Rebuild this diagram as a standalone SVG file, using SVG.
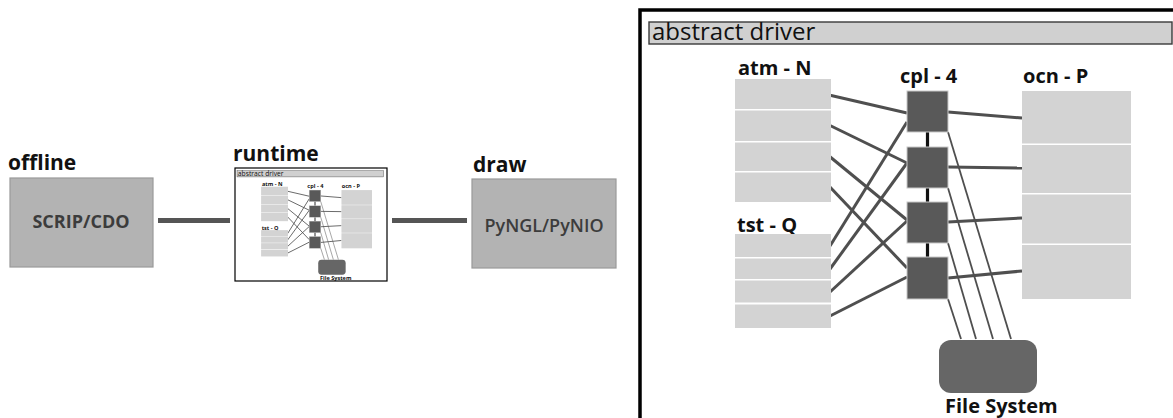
<svg xmlns="http://www.w3.org/2000/svg" width="1173" height="418" viewBox="0 0 1173 418">
<style>
  .lbl{font-family:"Open Sans","Liberation Sans",sans-serif;font-weight:bold;font-size:20px;fill:#111}
  .stage{font-family:"Open Sans","Liberation Sans",sans-serif;font-weight:bold;font-size:21px;fill:#111}
  .boxtxt{font-family:"Open Sans","Liberation Sans",sans-serif;font-size:18px;fill:#3c3c3c;text-anchor:middle}
  .stagebox{fill:#b3b3b3;stroke:#999;stroke-width:1.2}
  .comp{fill:#d3d3d3}
  .cpl{fill:#595959;stroke:#c8c8c8;stroke-width:1}
  .link{stroke:#4f4f4f;stroke-width:3;fill:none}
  .fslink{stroke:#4f4f4f;stroke-width:1.8;fill:none}
  .bus{stroke:#111;stroke-width:3.2;fill:none}
  .flow{stroke:#555;stroke-width:5;fill:none}
</style>
<rect width="1173" height="418" fill="#fff"/>

<!-- top-level flow connectors -->
<g id="connectors">
  <line class="flow" x1="158" y1="220.5" x2="230" y2="220.5"/>
  <line class="flow" x1="392" y1="220.5" x2="467" y2="220.5"/>
</g>

<g id="offline">
  <text class="stage" x="8" y="170">offline</text>
  <rect class="stagebox" x="10" y="178" width="143" height="89"/>
  <text class="boxtxt" x="81" y="228" font-weight="bold">SCRIP/CDO</text>
</g>

<g id="draw">
  <text class="stage" x="473" y="172">draw</text>
  <rect class="stagebox" x="472" y="179" width="144" height="89"/>
  <text class="boxtxt" x="544" y="232" font-weight="600">PyNGL/PyNIO</text>
</g>

<!-- big abstract driver frame -->
<rect id="driver-frame" x="640" y="10" width="560" height="440" fill="none" stroke="#000" stroke-width="3.5"/>

<defs>
<g id="driver-content">
  <g id="title-bar">
    <rect x="649" y="22" width="523" height="22" fill="#d0d0d0" stroke="#3a3a3a" stroke-width="1.4"/>
    <text x="652" y="40" font-family="Open Sans, Liberation Sans, sans-serif" font-size="24" fill="#111">abstract driver</text>
  </g>
  <g id="driver-connectors">
    <line class="link" x1="829" y1="95" x2="907" y2="113"/>
    <line class="link" x1="829" y1="125" x2="907" y2="163"/>
    <line class="link" x1="829" y1="156" x2="907" y2="220"/>
    <line class="link" x1="829" y1="186" x2="907" y2="268"/>
    <line class="link" x1="830" y1="246" x2="907" y2="122"/>
    <line class="link" x1="830" y1="269" x2="907" y2="163"/>
    <line class="link" x1="830" y1="292" x2="907" y2="221"/>
    <line class="link" x1="830" y1="316" x2="907" y2="277"/>
    <line class="link" x1="948" y1="112" x2="1022" y2="118"/>
    <line class="link" x1="948" y1="167" x2="1022" y2="168"/>
    <line class="link" x1="948" y1="222" x2="1022" y2="218"/>
    <line class="link" x1="948" y1="278" x2="1022" y2="271"/>
    <line class="fslink" x1="948" y1="132" x2="1011" y2="339"/>
    <line class="fslink" x1="948" y1="188" x2="993" y2="339"/>
    <line class="fslink" x1="948" y1="243" x2="976" y2="339"/>
    <line class="fslink" x1="948" y1="299" x2="961" y2="339"/>
    <line class="bus" x1="927.5" y1="132" x2="927.5" y2="147"/>
    <line class="bus" x1="927.5" y1="188" x2="927.5" y2="202"/>
    <line class="bus" x1="927.5" y1="243" x2="927.5" y2="257"/>
  </g>
  <g id="atm">
    <text class="lbl" x="738" y="75">atm - N</text>
    <rect class="comp" x="735" y="79" width="96" height="30"/>
    <rect class="comp" x="735" y="110.5" width="96" height="30.5"/>
    <rect class="comp" x="735" y="142.5" width="96" height="28.5"/>
    <rect class="comp" x="735" y="172.5" width="96" height="29.5"/>
  </g>
  <g id="tst">
    <text class="lbl" x="737" y="232">tst - Q</text>
    <rect class="comp" x="735" y="234" width="96" height="23"/>
    <rect class="comp" x="735" y="258.5" width="96" height="20.5"/>
    <rect class="comp" x="735" y="280.5" width="96" height="22"/>
    <rect class="comp" x="735" y="304.5" width="96" height="23.5"/>
  </g>
  <g id="cpl">
    <text class="lbl" x="900" y="83">cpl - 4</text>
    <rect class="cpl" x="907" y="91" width="41" height="41"/>
    <rect class="cpl" x="907" y="147" width="41" height="41"/>
    <rect class="cpl" x="907" y="202" width="41" height="41"/>
    <rect class="cpl" x="907" y="257" width="41" height="42"/>
  </g>
  <g id="ocn">
    <text class="lbl" x="1023" y="83">ocn - P</text>
    <rect class="comp" x="1022" y="91" width="109" height="52.5"/>
    <rect class="comp" x="1022" y="145" width="109" height="48"/>
    <rect class="comp" x="1022" y="194.5" width="109" height="49"/>
    <rect class="comp" x="1022" y="245" width="109" height="54"/>
  </g>
  <g id="file-system">
    <rect x="939" y="340" width="98" height="53" rx="12" ry="12" fill="#666"/>
    <text class="lbl" x="945" y="413">File System</text>
  </g>
</g>
</defs>

<use href="#driver-content"/>

<g id="runtime">
  <text class="stage" x="233" y="161">runtime</text>
  <rect x="235" y="168" width="152" height="113" fill="#fff" stroke="#000" stroke-width="1.2"/>
  <use href="#driver-content" transform="matrix(0.28 0 0 0.28 55.3 164.6)"/>
</g>
</svg>
